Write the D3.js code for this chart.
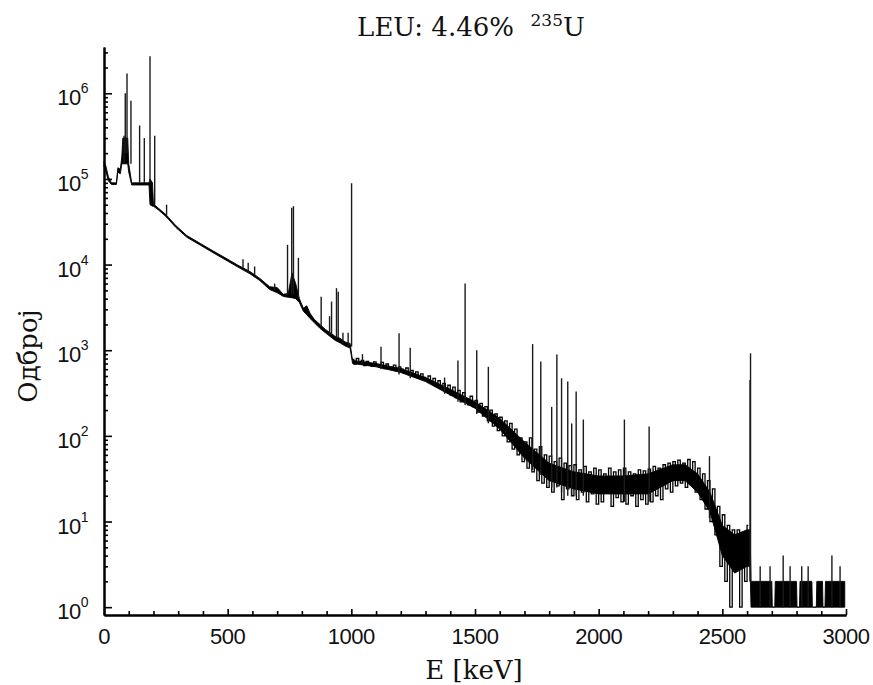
<!DOCTYPE html>
<html>
<head>
<meta charset="utf-8">
<script src="https://cdn.jsdelivr.net/npm/d3@7"></script>
<style>
  html, body { margin: 0; padding: 0; background: #fff; }
  svg { display: block; }
</style>
</head>
<body>
<svg id="chart" width="873" height="685"></svg>
<script>
// ---------------- data ----------------
// core band of the spectrum: energy (keV), lower and upper envelope (counts)
const bandE  = [0, 8, 18, 30, 50, 56, 66, 72, 76, 96, 100, 112, 182, 186, 196, 200, 220, 250, 290, 335, 390, 440, 490, 540, 590, 630, 670, 700, 725, 745, 760, 775, 790, 806, 820, 833, 850, 873, 895, 914, 935, 954, 975, 995,
  1005, 1100, 1200, 1300, 1400, 1500, 1600, 1700, 1800, 1900, 2000, 2100, 2200, 2300, 2350, 2400, 2450, 2500, 2550, 2600, 2612, 2616,
  2640, 2700, 2702, 2712, 2714, 2800, 2802, 2812, 2814, 2862, 2864, 2880, 2882, 2905, 2907, 2915, 2917, 2995];
const bandLo = [1.4e5, 1.2e5, 9.5e4, 8.6e4, 8.6e4, 1.2e5, 1.15e5, 1.5e5, 1.5e5, 1.5e5, 1.2e5, 8.5e4, 8.5e4, 5.0e4, 4.8e4, 4.8e4, 4.35e4, 3.65e4, 2.72e4, 2.08e4, 1.68e4, 1.38e4, 1.14e4, 9.4e3, 7.8e3, 6.5e3, 5.1e3, 4.7e3, 4.25e3, 4.15e3, 4.1e3, 4.0e3, 3.6e3, 2.85e3, 2.6e3, 2.35e3, 2.1e3, 1.8e3, 1.6e3, 1.45e3, 1.3e3, 1.22e3, 1.12e3, 1.06e3,
  700, 640, 550, 430, 300, 210, 120, 55, 30, 24, 21, 21, 21, 30, 30, 22, 13, 4, 2.5, 3, 3, 1,
  1, 1, 1, 1, 1, 1, 1, 1, 1, 1, 1, 1, 1, 1, 1, 1, 1, 1];
const bandHi = [1.6e5, 1.4e5, 1.05e5, 9.0e4, 9.0e4, 1.35e5, 1.3e5, 1.8e5, 3.0e5, 3.0e5, 1.5e5, 9.0e4, 9.0e4, 1.0e5, 9.0e4, 5.1e4, 4.55e4, 3.85e4, 2.86e4, 2.18e4, 1.76e4, 1.45e4, 1.2e4, 9.9e3, 8.3e3, 6.9e3, 5.5e3, 5.4e3, 4.5e3, 4.6e3, 8.0e3, 6.0e3, 4.0e3, 3.1e3, 3.3e3, 2.7e3, 2.3e3, 2.0e3, 1.75e3, 1.6e3, 1.45e3, 1.38e3, 1.25e3, 1.2e3,
  760, 700, 610, 480, 350, 250, 160, 85, 48, 38, 34, 34, 36, 46, 46, 36, 22, 9, 7, 8, 8, 2,
  2, 2, 1, 1, 2, 2, 1, 1, 2, 2, 1, 1, 2, 2, 1, 1, 2, 2];

// channel-to-channel scatter of the spectrum, 10 keV apart from 1005 keV to 2605 keV (counts)
const noiseStartE = 1005;
const noiseStepE  = 10;
const noiseC = [
  780, 690, 800, 720, 760, 660, 740, 700, 650, 730,
  680, 640, 720, 610, 690, 630, 600, 670, 580, 640,
  600, 540, 620, 520, 580, 500, 560, 470, 530, 480,
  450, 500, 410, 470, 380, 440, 360, 410, 330, 390,
  300, 370, 280, 340, 250, 320, 270, 230, 290, 220,
  260, 190, 240, 170, 220, 150, 200, 130, 180, 115,
  165, 100, 150, 85, 140, 70, 120, 60, 95, 50,
  85, 42, 95, 38, 70, 30, 75, 28, 60, 25,
  58, 22, 50, 26, 55, 18, 48, 24, 45, 20,
  46, 18, 40, 22, 44, 17, 38, 21, 42, 16,
  40, 17, 36, 22, 42, 15, 38, 19, 40, 17,
  42, 16, 38, 20, 36, 15, 40, 18, 39, 16,
  41, 17, 44, 20, 42, 18, 46, 24, 48, 22,
  50, 26, 52, 28, 48, 25, 53, 27, 50, 22,
  42, 18, 36, 14, 30, 10, 24, 7, 15, 3,
  12, 2, 9, 1, 8, 3, 8, 1, 7, 2, 9];

// peaks: energy (keV), count at the foot, count at the top
const peakE    = [81, 86, 93, 109, 144, 163, 186, 205, 253, 562, 583, 609, 690, 742, 759, 766, 786, 878, 912, 920, 940, 947, 966, 987, 1001,
  1045, 1120, 1193, 1238, 1377, 1431, 1460, 1507, 1554, 1733, 1766, 1810, 1831, 1850, 1875, 1891, 1909, 1938, 2104, 2204, 2448, 2612, 2614,
  2653, 2693, 2746, 2774, 2821, 2847, 2943, 2976];
const peakBase = [1.5e5, 2e5, 2e5, 1.5e5, 9e4, 9e4, 9e4, 5e4, 3.8e4, 9e3, 8e3, 7.5e3, 5e3, 4.4e3, 4.5e3, 4.5e3, 4e3, 1.9e3, 1.5e3, 1.5e3, 1.4e3, 1.4e3, 1.2e3, 1.1e3, 1.1e3,
  700, 600, 520, 470, 310, 250, 230, 180, 140, 40, 35, 25, 25, 22, 20, 20, 20, 20, 17, 17, 11, 2, 2,
  1, 1, 1, 1, 1, 1, 1, 1];
const peakTop  = [3.2e5, 1.0e6, 1.7e6, 8.2e5, 4.2e5, 3.0e5, 2.7e6, 3.2e5, 5.0e4, 1.15e4, 1.05e4, 9.5e3, 6.0e3, 1.7e4, 4.6e4, 4.8e4, 1.2e4, 4.2e3, 2.5e3, 3.7e3, 5.3e3, 4.8e3, 1.6e3, 1.6e3, 8.9e4,
  900, 1.1e3, 1.58e3, 1.07e3, 480, 760, 6.0e3, 1.0e3, 640, 1.18e3, 740, 218, 890, 470, 430, 139, 330, 155, 155, 129, 58, 450, 920,
  3, 3, 4, 3, 3, 3, 4, 3];

const yTickExp   = [0, 1, 2, 3, 4, 5, 6];
const xTickMajor = [0, 500, 1000, 1500, 2000, 2500, 3000];
const titleMain  = "LEU: 4.46%";
const titleIso   = "235";
const titleElem  = "U";
const xTitle     = "E [keV]";
const yTitle     = "Одброј";

// ---------------- drawing ----------------
const svg = d3.select("#chart");
const x = d3.scaleLinear().domain([0, 3000]).range([104, 846]);
const y = d3.scaleLog().domain([0.81, 3.47e6]).range([615, 47]);

const band = bandE.map((e, i) => ({ e, lo: bandLo[i], hi: bandHi[i] }));
svg.append("path")
  .datum(band)
  .attr("d", d3.area().x(d => x(d.e)).y0(d => y(d.lo)).y1(d => y(d.hi)))
  .attr("fill", "#000")
  .attr("stroke", "#000")
  .attr("stroke-width", 0.9)
  .attr("stroke-linejoin", "round");

const noise = noiseC.map((c, i) => ({ e: noiseStartE + i * noiseStepE, c }));
svg.append("path")
  .datum(noise)
  .attr("d", d3.line().x(d => x(d.e)).y(d => y(d.c)).curve(d3.curveStep))
  .attr("fill", "none")
  .attr("stroke", "#000")
  .attr("stroke-width", 1.3);

const peaks = peakE.map((e, i) => ({ e, b: peakBase[i], t: peakTop[i] }));
svg.append("g").selectAll("line")
  .data(peaks).join("line")
  .attr("x1", d => x(d.e)).attr("x2", d => x(d.e))
  .attr("y1", d => y(d.b)).attr("y2", d => y(d.t))
  .attr("stroke", "#1a1a1a")
  .attr("stroke-width", 1.4);

// y axis (ticks inward)
const yMinor = [];
yTickExp.forEach(p => { for (let k = 2; k <= 9; k++) { const v = k * Math.pow(10, p); if (v < 3.47e6) yMinor.push(v); } });
const yMajor = yTickExp.map(p => Math.pow(10, p));

const gy = svg.append("g").attr("transform", "translate(104,0)");
gy.call(d3.axisLeft(y).tickValues(yMajor).tickSize(-8).tickSizeOuter(0).tickFormat(""));
gy.append("g").call(d3.axisLeft(y).tickValues(yMinor).tickSize(-4).tickSizeOuter(0).tickFormat(""));
gy.selectAll("path.domain").attr("stroke", "#000").attr("stroke-width", 2);
gy.selectAll(".tick line").attr("stroke", "#000").attr("stroke-width", 1.6);

// y tick labels 10^n
const yl = svg.append("g").attr("font-family", "'Liberation Sans', Arial, sans-serif").attr("fill", "#111");
yTickExp.forEach(p => {
  const t = yl.append("text")
    .attr("x", 88)
    .attr("y", y(Math.pow(10, p)) + 12)
    .attr("text-anchor", "end")
    .attr("font-size", 22)
    .attr("letter-spacing", -0.5);
  t.append("tspan").text("10");
  t.append("tspan").attr("dy", -12).attr("font-size", 14).text(p);
});

// x axis (ticks inward)
const xMinor = d3.range(0, 3001, 100).filter(v => v % 500 !== 0);
const gx = svg.append("g").attr("transform", "translate(0,615)");
gx.call(d3.axisBottom(x).tickValues(xTickMajor).tickSize(-6).tickSizeOuter(0).tickFormat(""));
gx.append("g").call(d3.axisBottom(x).tickValues(xMinor).tickSize(-4).tickSizeOuter(0).tickFormat(""));
gx.selectAll("path.domain").attr("stroke", "#000").attr("stroke-width", 2);
gx.selectAll(".tick line").attr("stroke", "#000").attr("stroke-width", 1.6);

svg.append("g").selectAll("text")
  .data(xTickMajor).join("text")
  .attr("x", d => x(d))
  .attr("y", 644)
  .attr("text-anchor", "middle")
  .attr("font-family", "'Liberation Sans', Arial, sans-serif")
  .attr("font-size", 22)
  .attr("letter-spacing", -0.5)
  .attr("fill", "#111")
  .text(d => d);

// titles
const serif = "'DejaVu Serif', serif";
const title = svg.append("text")
  .attr("x", 471).attr("y", 36)
  .attr("text-anchor", "middle")
  .attr("font-family", serif)
  .attr("font-size", 26)
  .attr("fill", "#111");
title.append("tspan").text(titleMain + "\u00A0\u00A0");
title.append("tspan").attr("dy", -10).attr("font-size", 17).text(titleIso);
title.append("tspan").attr("dy", 10).text(titleElem);

svg.append("text")
  .attr("x", 474).attr("y", 679)
  .attr("text-anchor", "middle")
  .attr("font-family", serif)
  .attr("font-size", 26)
  .attr("fill", "#111")
  .text(xTitle);

svg.append("text")
  .attr("transform", "translate(37,356) rotate(-90)")
  .attr("text-anchor", "middle")
  .attr("font-family", serif)
  .attr("font-size", 26)
  .attr("fill", "#111")
  .text(yTitle);
</script>
</body>
</html>
